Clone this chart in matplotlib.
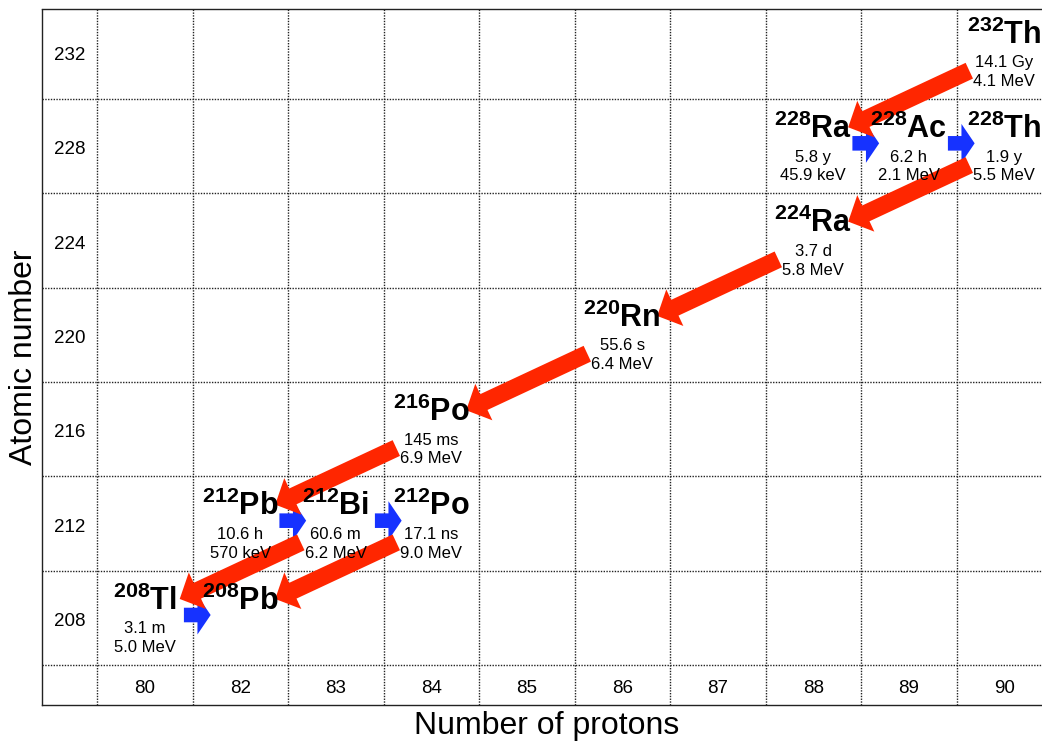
import matplotlib
matplotlib.use("Agg")
import matplotlib.pyplot as plt

plt.rcParams["font.family"] = ["Liberation Sans", "DejaVu Sans"]
plt.rcParams["mathtext.fontset"] = "custom"
plt.rcParams["mathtext.rm"] = "Liberation Sans"
plt.rcParams["mathtext.bf"] = "Liberation Sans:bold"

# column labels (number of protons) and row labels (atomic number)
columns = [80, 82, 83, 84, 85, 86, 87, 88, 89, 90]
rows = [208, 212, 216, 220, 224, 228, 232]

# nuclides of the thorium chain
symbols = ["Th", "Ra", "Ac", "Th", "Ra", "Rn", "Po", "Pb", "Bi", "Po", "Tl", "Pb"]
masses = [232, 228, 228, 228, 224, 220, 216, 212, 212, 212, 208, 208]
protons = [90, 88, 89, 90, 88, 86, 84, 82, 83, 84, 80, 82]
half_lives = ["14.1 Gy", "5.8 y", "6.2 h", "1.9 y", "3.7 d", "55.6 s",
              "145 ms", "10.6 h", "60.6 m", "17.1 ns", "3.1 m", ""]
energies = ["4.1 MeV", "45.9 keV", "2.1 MeV", "5.5 MeV", "5.8 MeV", "6.4 MeV",
            "6.9 MeV", "570 keV", "6.2 MeV", "9.0 MeV", "5.0 MeV", ""]

# decays as (parent, daughter) index pairs
alpha_decays = [(0, 1), (3, 4), (4, 5), (5, 6), (6, 7), (8, 10), (9, 11)]
beta_decays = [(1, 2), (2, 3), (7, 8), (8, 9), (10, 11)]

RED = "#ff2600"
BLUE = "#1632ff"
LINE = "#222222"
GRID = dict(color=LINE, linestyle=(0, (1, 1)), linewidth=1.0)


def cell(i):
    """column / row position of nuclide i"""
    return columns.index(protons[i]), rows.index(masses[i])


fig = plt.figure(figsize=(10.42, 7.46), dpi=100)
ax = fig.add_axes([42 / 1042, 41 / 746, 1010 / 1042, 696 / 746])
ax.set_xlim(-1.076, len(columns) - 0.5)
ax.set_ylim(-0.924, 6.454)
ax.set_xticks([])
ax.set_yticks([])

for k in range(len(columns)):
    ax.axvline(k - 0.5, **GRID)
for k in range(len(rows)):
    ax.axhline(k - 0.5, **GRID)
for side in ["left", "top", "bottom"]:
    ax.spines[side].set_linestyle((0, (1, 1)))
    ax.spines[side].set_color(LINE)
    ax.spines[side].set_linewidth(1.0)
ax.spines["right"].set_visible(False)

# table labels
for r, a in enumerate(rows):
    ax.text(-0.788, r - 0.087, str(a), ha="center", va="baseline", fontsize=13.5)
for c, z in enumerate(columns):
    ax.text(c, -0.80, str(z), ha="center", va="baseline", fontsize=13.5)

# nuclide labels (drawn above the arrows)
for i in range(len(symbols)):
    c, r = cell(i)
    ax.text(c, r + 0.088, r"$^{\mathbf{%d}}\mathbf{%s}$" % (masses[i], symbols[i]),
            ha="center", va="baseline", fontsize=22, zorder=6)
    if half_lives[i]:
        ax.text(c, r - 0.165, half_lives[i], ha="center", va="baseline",
                fontsize=12, zorder=6)
        ax.text(c, r - 0.363, energies[i], ha="center", va="baseline",
                fontsize=12, zorder=6)

# beta decays: short horizontal arrows across the cell border
for p, d in beta_decays:
    pc, pr = cell(p)
    dc, dr = cell(d)
    ax.annotate("", xy=(dc - 0.31, dr + 0.03), xytext=(pc + 0.41, pr + 0.03),
                arrowprops=dict(arrowstyle="simple,head_length=9.5,head_width=28,tail_width=10.5",
                                mutation_scale=1, color=BLUE, lw=0,
                                shrinkA=0, shrinkB=0),
                zorder=4)

# alpha decays: diagonal arrows two columns left, one row down
for p, d in alpha_decays:
    pc, pr = cell(p)
    dc, dr = cell(d)
    ax.annotate("", xy=(dc + 0.366, dr + 0.2), xytext=(pc - 0.366, pr - 0.2),
                arrowprops=dict(arrowstyle="simple,head_length=14,head_width=29,tail_width=12.5",
                                mutation_scale=1, color=RED, lw=0,
                                shrinkA=0, shrinkB=0),
                zorder=5)

ax.set_xlabel("Number of protons", fontsize=23, labelpad=4)
ax.set_ylabel("Atomic number", fontsize=23, labelpad=2)

fig.savefig("out.png", dpi=100)
